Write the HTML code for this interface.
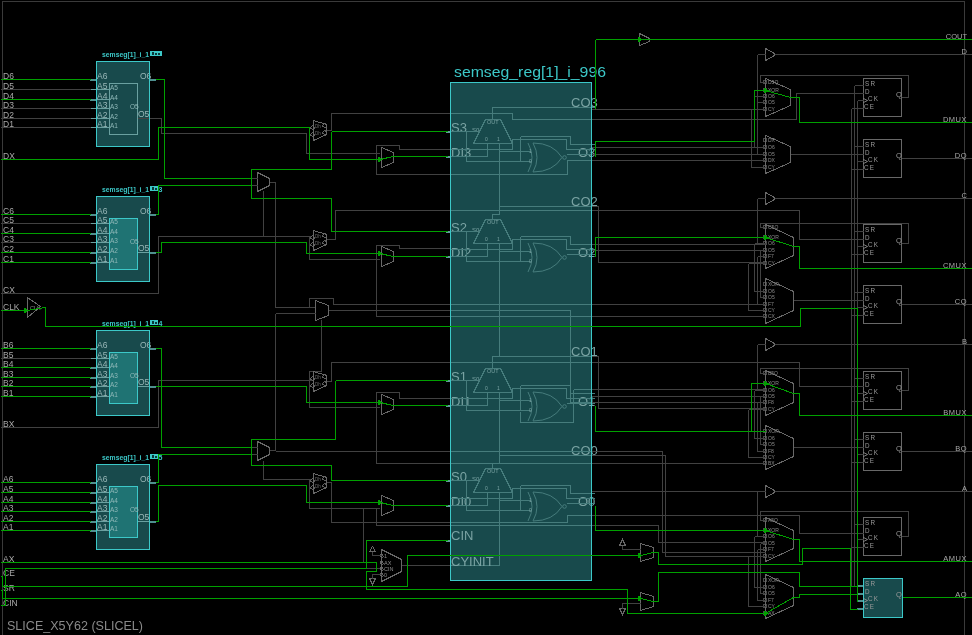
<!DOCTYPE html>
<html><head><meta charset="utf-8"><style>
html,body{margin:0;padding:0;background:#000;overflow:hidden}
svg{display:block;will-change:transform}
text{font-family:"Liberation Sans",sans-serif}
</style></head><body>
<svg width="972" height="635" viewBox="0 0 972 635" shape-rendering="crispEdges">
<rect width="972" height="635" fill="#000"/>
<path d="M2.5,635.5 L2.5,1.5 L964.5,1.5 L964.5,635.5" stroke="#3a3a3a" stroke-width="1" fill="none"/>
<text x="3" y="78.7" font-size="8.5" fill="#a8a8a8" text-anchor="start" font-weight="normal" >D6</text>
<path d="M0.5,89.5 L90.5,89.5" stroke="#414141" stroke-width="1" fill="none"/>
<text x="3" y="88.7" font-size="8.5" fill="#a8a8a8" text-anchor="start" font-weight="normal" >D5</text>
<text x="3" y="98.7" font-size="8.5" fill="#a8a8a8" text-anchor="start" font-weight="normal" >D4</text>
<path d="M0.5,108.5 L90.5,108.5" stroke="#414141" stroke-width="1" fill="none"/>
<text x="3" y="107.7" font-size="8.5" fill="#a8a8a8" text-anchor="start" font-weight="normal" >D3</text>
<path d="M0.5,118.5 L90.5,118.5" stroke="#414141" stroke-width="1" fill="none"/>
<text x="3" y="117.7" font-size="8.5" fill="#a8a8a8" text-anchor="start" font-weight="normal" >D2</text>
<path d="M0.5,127.5 L90.5,127.5" stroke="#414141" stroke-width="1" fill="none"/>
<text x="3" y="126.7" font-size="8.5" fill="#a8a8a8" text-anchor="start" font-weight="normal" >D1</text>
<rect x="96.5" y="61.5" width="53" height="85" stroke="none" fill="#184a4c" stroke-width="1"/>
<path d="M90.5,79.5 L96.5,79.5" stroke="#6aa0a0" stroke-width="1" fill="none"/>
<rect x="90" y="78.5" width="7" height="2" fill="#4f8f8f"/>
<path d="M90.5,89.5 L109.5,89.5" stroke="#6aa0a0" stroke-width="1" fill="none"/>
<path d="M90.5,99.5 L109.5,99.5" stroke="#6aa0a0" stroke-width="1" fill="none"/>
<rect x="90" y="98.5" width="7" height="2" fill="#4f8f8f"/>
<path d="M90.5,108.5 L109.5,108.5" stroke="#6aa0a0" stroke-width="1" fill="none"/>
<path d="M90.5,118.5 L109.5,118.5" stroke="#6aa0a0" stroke-width="1" fill="none"/>
<path d="M90.5,127.5 L109.5,127.5" stroke="#6aa0a0" stroke-width="1" fill="none"/>
<rect x="109.5" y="83.5" width="28" height="51" stroke="#6aa0a0" fill="#184a4c" stroke-width="1"/>
<text x="97" y="79" font-size="8.5" fill="#9ab8b8" text-anchor="start" font-weight="normal" >A6</text>
<text x="97" y="89" font-size="8.5" fill="#9ab8b8" text-anchor="start" font-weight="normal" >A5</text>
<text x="110" y="90" font-size="6.5" fill="#8fb8b8" text-anchor="start" font-weight="normal" >A5</text>
<text x="97" y="99" font-size="8.5" fill="#9ab8b8" text-anchor="start" font-weight="normal" >A4</text>
<text x="110" y="100" font-size="6.5" fill="#8fb8b8" text-anchor="start" font-weight="normal" >A4</text>
<text x="97" y="108" font-size="8.5" fill="#9ab8b8" text-anchor="start" font-weight="normal" >A3</text>
<text x="110" y="109" font-size="6.5" fill="#8fb8b8" text-anchor="start" font-weight="normal" >A3</text>
<text x="97" y="118" font-size="8.5" fill="#9ab8b8" text-anchor="start" font-weight="normal" >A2</text>
<text x="110" y="119" font-size="6.5" fill="#8fb8b8" text-anchor="start" font-weight="normal" >A2</text>
<text x="97" y="127" font-size="8.5" fill="#9ab8b8" text-anchor="start" font-weight="normal" >A1</text>
<text x="110" y="128" font-size="6.5" fill="#8fb8b8" text-anchor="start" font-weight="normal" >A1</text>
<text x="130" y="109" font-size="6.5" fill="#8fb8b8" text-anchor="start" font-weight="normal" >O5</text>
<text x="140" y="79" font-size="8.5" fill="#9ab8b8" text-anchor="start" font-weight="normal" >O6</text>
<text x="138" y="117" font-size="8.5" fill="#9ab8b8" text-anchor="start" font-weight="normal" >O5</text>
<path d="M137.5,118.5 L155.5,118.5" stroke="#6aa0a0" stroke-width="1" fill="none"/>
<path d="M149.5,79.5 L155.5,79.5" stroke="#6aa0a0" stroke-width="1" fill="none"/>
<rect x="150" y="78.5" width="6" height="2" fill="#4f8f8f"/>
<text x="102" y="56.5" font-size="7.3" fill="#3cc8c8" text-anchor="start" font-weight="bold" textLength="47" lengthAdjust="spacingAndGlyphs">semseg[1]_i_1</text>
<rect x="150" y="51" width="12" height="5" fill="#3cc8c8"/>
<rect x="151.5" y="52" width="2" height="3" fill="#0a3a3a"/>
<rect x="155" y="52.5" width="1.5" height="2" fill="#0a3a3a"/>
<rect x="158" y="52.5" width="1.5" height="2" fill="#0a3a3a"/>
<text x="3" y="213.7" font-size="8.5" fill="#a8a8a8" text-anchor="start" font-weight="normal" >C6</text>
<path d="M0.5,223.5 L90.5,223.5" stroke="#414141" stroke-width="1" fill="none"/>
<text x="3" y="222.7" font-size="8.5" fill="#a8a8a8" text-anchor="start" font-weight="normal" >C5</text>
<text x="3" y="232.7" font-size="8.5" fill="#a8a8a8" text-anchor="start" font-weight="normal" >C4</text>
<path d="M0.5,242.5 L90.5,242.5" stroke="#414141" stroke-width="1" fill="none"/>
<text x="3" y="241.7" font-size="8.5" fill="#a8a8a8" text-anchor="start" font-weight="normal" >C3</text>
<text x="3" y="251.7" font-size="8.5" fill="#a8a8a8" text-anchor="start" font-weight="normal" >C2</text>
<text x="3" y="261.7" font-size="8.5" fill="#a8a8a8" text-anchor="start" font-weight="normal" >C1</text>
<rect x="96.5" y="196.5" width="53" height="85" stroke="none" fill="#184a4c" stroke-width="1"/>
<path d="M90.5,214.5 L96.5,214.5" stroke="#6aa0a0" stroke-width="1" fill="none"/>
<rect x="90" y="213.5" width="7" height="2" fill="#4f8f8f"/>
<path d="M90.5,223.5 L109.5,223.5" stroke="#6aa0a0" stroke-width="1" fill="none"/>
<path d="M90.5,233.5 L109.5,233.5" stroke="#6aa0a0" stroke-width="1" fill="none"/>
<rect x="90" y="232.5" width="7" height="2" fill="#4f8f8f"/>
<path d="M90.5,242.5 L109.5,242.5" stroke="#6aa0a0" stroke-width="1" fill="none"/>
<path d="M90.5,252.5 L109.5,252.5" stroke="#6aa0a0" stroke-width="1" fill="none"/>
<rect x="90" y="251.5" width="7" height="2" fill="#4f8f8f"/>
<path d="M90.5,262.5 L109.5,262.5" stroke="#6aa0a0" stroke-width="1" fill="none"/>
<rect x="90" y="261.5" width="7" height="2" fill="#4f8f8f"/>
<rect x="109.5" y="218.5" width="28" height="51" stroke="#3cc8c8" fill="#1f7373" stroke-width="1"/>
<text x="97" y="214" font-size="8.5" fill="#9ab8b8" text-anchor="start" font-weight="normal" >A6</text>
<text x="97" y="223" font-size="8.5" fill="#9ab8b8" text-anchor="start" font-weight="normal" >A5</text>
<text x="110" y="224" font-size="6.5" fill="#8fb8b8" text-anchor="start" font-weight="normal" >A5</text>
<text x="97" y="233" font-size="8.5" fill="#9ab8b8" text-anchor="start" font-weight="normal" >A4</text>
<text x="110" y="234" font-size="6.5" fill="#8fb8b8" text-anchor="start" font-weight="normal" >A4</text>
<text x="97" y="242" font-size="8.5" fill="#9ab8b8" text-anchor="start" font-weight="normal" >A3</text>
<text x="110" y="243" font-size="6.5" fill="#8fb8b8" text-anchor="start" font-weight="normal" >A3</text>
<text x="97" y="252" font-size="8.5" fill="#9ab8b8" text-anchor="start" font-weight="normal" >A2</text>
<text x="110" y="253" font-size="6.5" fill="#8fb8b8" text-anchor="start" font-weight="normal" >A2</text>
<text x="97" y="262" font-size="8.5" fill="#9ab8b8" text-anchor="start" font-weight="normal" >A1</text>
<text x="110" y="263" font-size="6.5" fill="#8fb8b8" text-anchor="start" font-weight="normal" >A1</text>
<text x="130" y="244" font-size="6.5" fill="#8fb8b8" text-anchor="start" font-weight="normal" >O5</text>
<text x="140" y="214" font-size="8.5" fill="#9ab8b8" text-anchor="start" font-weight="normal" >O6</text>
<text x="138" y="251" font-size="8.5" fill="#9ab8b8" text-anchor="start" font-weight="normal" >O5</text>
<path d="M137.5,252.5 L155.5,252.5" stroke="#6aa0a0" stroke-width="1" fill="none"/>
<path d="M149.5,214.5 L155.5,214.5" stroke="#6aa0a0" stroke-width="1" fill="none"/>
<rect x="150" y="213.5" width="6" height="2" fill="#4f8f8f"/>
<rect x="150" y="251.5" width="6" height="2" fill="#4f8f8f"/>
<text x="102" y="191.5" font-size="7.3" fill="#3cc8c8" text-anchor="start" font-weight="bold" textLength="47" lengthAdjust="spacingAndGlyphs">semseg[1]_i_1</text>
<rect x="150" y="186" width="8" height="5" fill="#3cc8c8"/>
<rect x="151.5" y="187" width="2" height="3" fill="#0a3a3a"/>
<rect x="155" y="187.5" width="1.5" height="2" fill="#0a3a3a"/>
<text x="158.5" y="191.5" font-size="7" fill="#3cc8c8" text-anchor="start" font-weight="bold" >3</text>
<text x="3" y="347.7" font-size="8.5" fill="#a8a8a8" text-anchor="start" font-weight="normal" >B6</text>
<path d="M0.5,358.5 L90.5,358.5" stroke="#414141" stroke-width="1" fill="none"/>
<text x="3" y="357.7" font-size="8.5" fill="#a8a8a8" text-anchor="start" font-weight="normal" >B5</text>
<text x="3" y="366.7" font-size="8.5" fill="#a8a8a8" text-anchor="start" font-weight="normal" >B4</text>
<text x="3" y="376.7" font-size="8.5" fill="#a8a8a8" text-anchor="start" font-weight="normal" >B3</text>
<text x="3" y="385.7" font-size="8.5" fill="#a8a8a8" text-anchor="start" font-weight="normal" >B2</text>
<text x="3" y="395.7" font-size="8.5" fill="#a8a8a8" text-anchor="start" font-weight="normal" >B1</text>
<rect x="96.5" y="330.5" width="53" height="85" stroke="none" fill="#184a4c" stroke-width="1"/>
<path d="M90.5,348.5 L96.5,348.5" stroke="#6aa0a0" stroke-width="1" fill="none"/>
<rect x="90" y="347.5" width="7" height="2" fill="#4f8f8f"/>
<path d="M90.5,358.5 L109.5,358.5" stroke="#6aa0a0" stroke-width="1" fill="none"/>
<path d="M90.5,367.5 L109.5,367.5" stroke="#6aa0a0" stroke-width="1" fill="none"/>
<rect x="90" y="366.5" width="7" height="2" fill="#4f8f8f"/>
<path d="M90.5,377.5 L109.5,377.5" stroke="#6aa0a0" stroke-width="1" fill="none"/>
<rect x="90" y="376.5" width="7" height="2" fill="#4f8f8f"/>
<path d="M90.5,386.5 L109.5,386.5" stroke="#6aa0a0" stroke-width="1" fill="none"/>
<rect x="90" y="385.5" width="7" height="2" fill="#4f8f8f"/>
<path d="M90.5,396.5 L109.5,396.5" stroke="#6aa0a0" stroke-width="1" fill="none"/>
<rect x="90" y="395.5" width="7" height="2" fill="#4f8f8f"/>
<rect x="109.5" y="352.5" width="28" height="51" stroke="#3cc8c8" fill="#1f7373" stroke-width="1"/>
<text x="97" y="348" font-size="8.5" fill="#9ab8b8" text-anchor="start" font-weight="normal" >A6</text>
<text x="97" y="358" font-size="8.5" fill="#9ab8b8" text-anchor="start" font-weight="normal" >A5</text>
<text x="110" y="359" font-size="6.5" fill="#8fb8b8" text-anchor="start" font-weight="normal" >A5</text>
<text x="97" y="367" font-size="8.5" fill="#9ab8b8" text-anchor="start" font-weight="normal" >A4</text>
<text x="110" y="368" font-size="6.5" fill="#8fb8b8" text-anchor="start" font-weight="normal" >A4</text>
<text x="97" y="377" font-size="8.5" fill="#9ab8b8" text-anchor="start" font-weight="normal" >A3</text>
<text x="110" y="378" font-size="6.5" fill="#8fb8b8" text-anchor="start" font-weight="normal" >A3</text>
<text x="97" y="386" font-size="8.5" fill="#9ab8b8" text-anchor="start" font-weight="normal" >A2</text>
<text x="110" y="387" font-size="6.5" fill="#8fb8b8" text-anchor="start" font-weight="normal" >A2</text>
<text x="97" y="396" font-size="8.5" fill="#9ab8b8" text-anchor="start" font-weight="normal" >A1</text>
<text x="110" y="397" font-size="6.5" fill="#8fb8b8" text-anchor="start" font-weight="normal" >A1</text>
<text x="130" y="378" font-size="6.5" fill="#8fb8b8" text-anchor="start" font-weight="normal" >O5</text>
<text x="140" y="348" font-size="8.5" fill="#9ab8b8" text-anchor="start" font-weight="normal" >O6</text>
<text x="138" y="385" font-size="8.5" fill="#9ab8b8" text-anchor="start" font-weight="normal" >O5</text>
<path d="M137.5,386.5 L155.5,386.5" stroke="#6aa0a0" stroke-width="1" fill="none"/>
<path d="M149.5,348.5 L155.5,348.5" stroke="#6aa0a0" stroke-width="1" fill="none"/>
<rect x="150" y="347.5" width="6" height="2" fill="#4f8f8f"/>
<rect x="150" y="385.5" width="6" height="2" fill="#4f8f8f"/>
<text x="102" y="325.5" font-size="7.3" fill="#3cc8c8" text-anchor="start" font-weight="bold" textLength="47" lengthAdjust="spacingAndGlyphs">semseg[1]_i_1</text>
<rect x="150" y="320" width="8" height="5" fill="#3cc8c8"/>
<rect x="151.5" y="321" width="2" height="3" fill="#0a3a3a"/>
<rect x="155" y="321.5" width="1.5" height="2" fill="#0a3a3a"/>
<text x="158.5" y="325.5" font-size="7" fill="#3cc8c8" text-anchor="start" font-weight="bold" >4</text>
<text x="3" y="481.7" font-size="8.5" fill="#a8a8a8" text-anchor="start" font-weight="normal" >A6</text>
<text x="3" y="491.7" font-size="8.5" fill="#a8a8a8" text-anchor="start" font-weight="normal" >A5</text>
<text x="3" y="501.7" font-size="8.5" fill="#a8a8a8" text-anchor="start" font-weight="normal" >A4</text>
<text x="3" y="510.7" font-size="8.5" fill="#a8a8a8" text-anchor="start" font-weight="normal" >A3</text>
<text x="3" y="520.7" font-size="8.5" fill="#a8a8a8" text-anchor="start" font-weight="normal" >A2</text>
<text x="3" y="529.7" font-size="8.5" fill="#a8a8a8" text-anchor="start" font-weight="normal" >A1</text>
<rect x="96.5" y="464.5" width="53" height="85" stroke="none" fill="#184a4c" stroke-width="1"/>
<path d="M90.5,482.5 L96.5,482.5" stroke="#6aa0a0" stroke-width="1" fill="none"/>
<rect x="90" y="481.5" width="7" height="2" fill="#4f8f8f"/>
<path d="M90.5,492.5 L109.5,492.5" stroke="#6aa0a0" stroke-width="1" fill="none"/>
<rect x="90" y="491.5" width="7" height="2" fill="#4f8f8f"/>
<path d="M90.5,502.5 L109.5,502.5" stroke="#6aa0a0" stroke-width="1" fill="none"/>
<rect x="90" y="501.5" width="7" height="2" fill="#4f8f8f"/>
<path d="M90.5,511.5 L109.5,511.5" stroke="#6aa0a0" stroke-width="1" fill="none"/>
<rect x="90" y="510.5" width="7" height="2" fill="#4f8f8f"/>
<path d="M90.5,521.5 L109.5,521.5" stroke="#6aa0a0" stroke-width="1" fill="none"/>
<rect x="90" y="520.5" width="7" height="2" fill="#4f8f8f"/>
<path d="M90.5,530.5 L109.5,530.5" stroke="#6aa0a0" stroke-width="1" fill="none"/>
<rect x="90" y="529.5" width="7" height="2" fill="#4f8f8f"/>
<rect x="109.5" y="486.5" width="28" height="51" stroke="#3cc8c8" fill="#1f7373" stroke-width="1"/>
<text x="97" y="482" font-size="8.5" fill="#9ab8b8" text-anchor="start" font-weight="normal" >A6</text>
<text x="97" y="492" font-size="8.5" fill="#9ab8b8" text-anchor="start" font-weight="normal" >A5</text>
<text x="110" y="493" font-size="6.5" fill="#8fb8b8" text-anchor="start" font-weight="normal" >A5</text>
<text x="97" y="502" font-size="8.5" fill="#9ab8b8" text-anchor="start" font-weight="normal" >A4</text>
<text x="110" y="503" font-size="6.5" fill="#8fb8b8" text-anchor="start" font-weight="normal" >A4</text>
<text x="97" y="511" font-size="8.5" fill="#9ab8b8" text-anchor="start" font-weight="normal" >A3</text>
<text x="110" y="512" font-size="6.5" fill="#8fb8b8" text-anchor="start" font-weight="normal" >A3</text>
<text x="97" y="521" font-size="8.5" fill="#9ab8b8" text-anchor="start" font-weight="normal" >A2</text>
<text x="110" y="522" font-size="6.5" fill="#8fb8b8" text-anchor="start" font-weight="normal" >A2</text>
<text x="97" y="530" font-size="8.5" fill="#9ab8b8" text-anchor="start" font-weight="normal" >A1</text>
<text x="110" y="531" font-size="6.5" fill="#8fb8b8" text-anchor="start" font-weight="normal" >A1</text>
<text x="130" y="512" font-size="6.5" fill="#8fb8b8" text-anchor="start" font-weight="normal" >O5</text>
<text x="140" y="482" font-size="8.5" fill="#9ab8b8" text-anchor="start" font-weight="normal" >O6</text>
<text x="138" y="520" font-size="8.5" fill="#9ab8b8" text-anchor="start" font-weight="normal" >O5</text>
<path d="M137.5,521.5 L155.5,521.5" stroke="#6aa0a0" stroke-width="1" fill="none"/>
<path d="M149.5,482.5 L155.5,482.5" stroke="#6aa0a0" stroke-width="1" fill="none"/>
<rect x="150" y="481.5" width="6" height="2" fill="#4f8f8f"/>
<rect x="150" y="520.5" width="6" height="2" fill="#4f8f8f"/>
<text x="102" y="459.5" font-size="7.3" fill="#3cc8c8" text-anchor="start" font-weight="bold" textLength="47" lengthAdjust="spacingAndGlyphs">semseg[1]_i_1</text>
<rect x="150" y="454" width="8" height="5" fill="#3cc8c8"/>
<rect x="151.5" y="455" width="2" height="3" fill="#0a3a3a"/>
<rect x="155" y="455.5" width="1.5" height="2" fill="#0a3a3a"/>
<text x="158.5" y="459.5" font-size="7" fill="#3cc8c8" text-anchor="start" font-weight="bold" >5</text>
<text x="3" y="158.7" font-size="8.5" fill="#a8a8a8" text-anchor="start" font-weight="normal" >DX</text>
<text x="3" y="292.7" font-size="8.5" fill="#a8a8a8" text-anchor="start" font-weight="normal" >CX</text>
<text x="3" y="426.7" font-size="8.5" fill="#a8a8a8" text-anchor="start" font-weight="normal" >BX</text>
<text x="3" y="561.7" font-size="8.5" fill="#a8a8a8" text-anchor="start" font-weight="normal" >AX</text>
<rect x="450.5" y="82.5" width="141" height="498" stroke="none" fill="#184a4c" stroke-width="1"/>
<text x="454" y="77" font-size="14.5" fill="#3cc8c8" text-anchor="start" font-weight="normal" textLength="152" lengthAdjust="spacingAndGlyphs">semseg_reg[1]_i_996</text>
<path d="M137.5,118.5 L161.5,118.5 L161.5,133.5 L306.5,133.5 L306.5,153.5 L379.5,153.5" stroke="#414141" stroke-width="1" fill="none"/>
<polygon points="313.5,120.5 326.5,124.5 326.5,134.5 313.5,140.5" stroke="#686868" fill="none" stroke-width="1"/>
<circle cx="312.5" cy="127.5" r="1.6" stroke="#686868" fill="none" stroke-width="0.9"/>
<circle cx="312.5" cy="134.5" r="1.6" stroke="#686868" fill="none" stroke-width="0.9"/>
<circle cx="324.5" cy="125.5" r="1.6" stroke="#686868" fill="none" stroke-width="0.9"/>
<circle cx="324.5" cy="132.5" r="1.6" stroke="#686868" fill="none" stroke-width="0.9"/>
<text x="315" y="128" font-size="4.5" fill="#686868" text-anchor="start" font-weight="normal" >Dh</text>
<text x="315" y="135" font-size="4.5" fill="#686868" text-anchor="start" font-weight="normal" >Dh</text>
<path d="M326.5,130.5 L331.5,130.5 L331.5,113.5 L450.5,113.5" stroke="#414141" stroke-width="1" fill="none"/>
<polygon points="381.5,147.5 393.5,152.5 393.5,162.5 381.5,167.5" stroke="#686868" fill="none" stroke-width="1"/>
<path d="M376.5,174.5 L376.5,174.5 L376.5,145.5 L399.5,145.5 L399.5,149.5 L450.5,149.5" stroke="#414141" stroke-width="1" fill="none"/>
<path d="M376.5,174.5 L450.5,174.5" stroke="#414141" stroke-width="1" fill="none"/>
<polygon points="257.5,172.5 269.5,178.5 269.5,185.5 257.5,191.5" stroke="#686868" fill="none" stroke-width="1"/>
<path d="M251.5,178.5 L257.5,178.5" stroke="#414141" stroke-width="1" fill="none"/>
<path d="M251.5,185.5 L257.5,185.5" stroke="#414141" stroke-width="1" fill="none"/>
<path d="M269.5,182.5 L275.5,182.5 L275.5,307.5 L315.5,307.5" stroke="#414141" stroke-width="1" fill="none"/>
<path d="M263.5,190.5 L263.5,236.5" stroke="#414141" stroke-width="1" fill="none"/>
<path d="M0.5,293.5 L158.5,293.5 L158.5,236.5 L311.5,236.5" stroke="#414141" stroke-width="1" fill="none"/>
<path d="M309.5,236.5 L309.5,259.5 L379.5,259.5" stroke="#414141" stroke-width="1" fill="none"/>
<polygon points="313.5,230.5 326.5,234.5 326.5,244.5 313.5,250.5" stroke="#686868" fill="none" stroke-width="1"/>
<circle cx="312.5" cy="237.5" r="1.6" stroke="#686868" fill="none" stroke-width="0.9"/>
<circle cx="312.5" cy="244.5" r="1.6" stroke="#686868" fill="none" stroke-width="0.9"/>
<circle cx="324.5" cy="235.5" r="1.6" stroke="#686868" fill="none" stroke-width="0.9"/>
<circle cx="324.5" cy="242.5" r="1.6" stroke="#686868" fill="none" stroke-width="0.9"/>
<text x="315" y="238" font-size="4.5" fill="#686868" text-anchor="start" font-weight="normal" >Dh</text>
<text x="315" y="245" font-size="4.5" fill="#686868" text-anchor="start" font-weight="normal" >Dh</text>
<path d="M326.5,239.5 L335.5,239.5 L335.5,210.5 L450.5,210.5" stroke="#414141" stroke-width="1" fill="none"/>
<polygon points="381.5,246.5 393.5,251.5 393.5,261.5 381.5,266.5" stroke="#686868" fill="none" stroke-width="1"/>
<path d="M376.5,316.5 L376.5,316.5 L376.5,245.5 L399.5,245.5 L399.5,248.5 L450.5,248.5" stroke="#414141" stroke-width="1" fill="none"/>
<path d="M376.5,316.5 L760.5,316.5" stroke="#414141" stroke-width="1" fill="none"/>
<polygon points="315.5,300.5 328.5,305.5 328.5,315.5 315.5,320.5" stroke="#686868" fill="none" stroke-width="1"/>
<path d="M309.5,307.5 L309.5,307.5 L309.5,298.5 L333.5,298.5 L333.5,304.5 L450.5,304.5" stroke="#414141" stroke-width="1" fill="none"/>
<path d="M328.5,310.5 L450.5,310.5" stroke="#414141" stroke-width="1" fill="none"/>
<path d="M275.5,313.5 L315.5,313.5" stroke="#414141" stroke-width="1" fill="none"/>
<path d="M275.5,313.5 L275.5,450.5" stroke="#414141" stroke-width="1" fill="none"/>
<path d="M321.5,319.5 L321.5,371.5 L309.5,371.5 L309.5,380.5" stroke="#414141" stroke-width="1" fill="none"/>
<polygon points="27.5,297.5 40.5,306.5 27.5,317.5" stroke="#686868" fill="none" stroke-width="1"/>
<text x="30" y="310" font-size="5.5" fill="#8a8a8a" text-anchor="start" font-weight="normal" >CLK</text>
<text x="3" y="310" font-size="8.5" fill="#a8a8a8" text-anchor="start" font-weight="normal" >CLK</text>
<path d="M0.5,427.5 L158.5,427.5 L158.5,380.5 L311.5,380.5" stroke="#414141" stroke-width="1" fill="none"/>
<path d="M309.5,380.5 L309.5,407.5 L379.5,407.5" stroke="#414141" stroke-width="1" fill="none"/>
<polygon points="313.5,371.5 326.5,375.5 326.5,385.5 313.5,391.5" stroke="#686868" fill="none" stroke-width="1"/>
<circle cx="312.5" cy="378.5" r="1.6" stroke="#686868" fill="none" stroke-width="0.9"/>
<circle cx="312.5" cy="385.5" r="1.6" stroke="#686868" fill="none" stroke-width="0.9"/>
<circle cx="324.5" cy="376.5" r="1.6" stroke="#686868" fill="none" stroke-width="0.9"/>
<circle cx="324.5" cy="383.5" r="1.6" stroke="#686868" fill="none" stroke-width="0.9"/>
<text x="315" y="379" font-size="4.5" fill="#686868" text-anchor="start" font-weight="normal" >Dh</text>
<text x="315" y="386" font-size="4.5" fill="#686868" text-anchor="start" font-weight="normal" >Dh</text>
<path d="M326.5,381.5 L331.5,381.5 L331.5,362.5 L450.5,362.5" stroke="#414141" stroke-width="1" fill="none"/>
<polygon points="381.5,394.5 393.5,399.5 393.5,409.5 381.5,414.5" stroke="#686868" fill="none" stroke-width="1"/>
<path d="M376.5,463.5 L376.5,463.5 L376.5,392.5 L399.5,392.5 L399.5,398.5 L450.5,398.5" stroke="#414141" stroke-width="1" fill="none"/>
<path d="M376.5,463.5 L450.5,463.5" stroke="#414141" stroke-width="1" fill="none"/>
<polygon points="257.5,441.5 269.5,447.5 269.5,454.5 257.5,460.5" stroke="#686868" fill="none" stroke-width="1"/>
<path d="M251.5,447.5 L257.5,447.5" stroke="#414141" stroke-width="1" fill="none"/>
<path d="M251.5,454.5 L257.5,454.5" stroke="#414141" stroke-width="1" fill="none"/>
<path d="M269.5,450.5 L275.5,450.5" stroke="#414141" stroke-width="1" fill="none"/>
<path d="M275.5,451.5 L450.5,451.5" stroke="#414141" stroke-width="1" fill="none"/>
<path d="M263.5,460.5 L263.5,479.5 L311.5,479.5" stroke="#414141" stroke-width="1" fill="none"/>
<polygon points="313.5,473.5 326.5,477.5 326.5,487.5 313.5,493.5" stroke="#686868" fill="none" stroke-width="1"/>
<circle cx="312.5" cy="480.5" r="1.6" stroke="#686868" fill="none" stroke-width="0.9"/>
<circle cx="312.5" cy="487.5" r="1.6" stroke="#686868" fill="none" stroke-width="0.9"/>
<circle cx="324.5" cy="478.5" r="1.6" stroke="#686868" fill="none" stroke-width="0.9"/>
<circle cx="324.5" cy="485.5" r="1.6" stroke="#686868" fill="none" stroke-width="0.9"/>
<text x="315" y="481" font-size="4.5" fill="#686868" text-anchor="start" font-weight="normal" >Dh</text>
<text x="315" y="488" font-size="4.5" fill="#686868" text-anchor="start" font-weight="normal" >Dh</text>
<path d="M326.5,482.5 L331.5,482.5 L331.5,522.5 L450.5,522.5" stroke="#414141" stroke-width="1" fill="none"/>
<path d="M309.5,479.5 L309.5,508.5 L379.5,508.5" stroke="#414141" stroke-width="1" fill="none"/>
<polygon points="381.5,495.5 393.5,500.5 393.5,510.5 381.5,515.5" stroke="#686868" fill="none" stroke-width="1"/>
<path d="M376.5,508.5 L376.5,525.5 L450.5,525.5" stroke="#414141" stroke-width="1" fill="none"/>
<path d="M363.5,508.5 L363.5,562.5" stroke="#414141" stroke-width="1" fill="none"/>
<path d="M366.5,568.5 L380.5,568.5" stroke="#414141" stroke-width="1" fill="none"/>
<polygon points="381.5,549.5 401.5,559.5 401.5,571.5 381.5,581.5" stroke="#686868" fill="none" stroke-width="1"/>
<circle cx="381.5" cy="555.5" r="1.5" stroke="#686868" fill="none" stroke-width="0.9"/>
<text x="384" y="557.5" font-size="5.5" fill="#8a8a8a" text-anchor="start" font-weight="normal" >1</text>
<circle cx="381.5" cy="562.5" r="1.5" stroke="#686868" fill="none" stroke-width="0.9"/>
<text x="384" y="564.5" font-size="5.5" fill="#8a8a8a" text-anchor="start" font-weight="normal" >AX</text>
<circle cx="381.5" cy="568.5" r="1.5" stroke="#686868" fill="none" stroke-width="0.9"/>
<text x="384" y="570.5" font-size="5.5" fill="#8a8a8a" text-anchor="start" font-weight="normal" >CIN</text>
<circle cx="381.5" cy="574.5" r="1.5" stroke="#686868" fill="none" stroke-width="0.9"/>
<text x="384" y="576.5" font-size="5.5" fill="#8a8a8a" text-anchor="start" font-weight="normal" >0</text>
<path d="M401.5,565.5 L450.5,565.5" stroke="#414141" stroke-width="1" fill="none"/>
<polygon points="372.5,546.5 375.5,551.5 369.5,551.5" stroke="#686868" fill="none" stroke-width="1"/>
<polygon points="369.5,578.5 375.5,578.5 372.5,584.5" stroke="#686868" fill="none" stroke-width="1"/>
<path d="M372.5,551.5 L372.5,555.5 L381.5,555.5" stroke="#414141" stroke-width="1" fill="none"/>
<path d="M372.5,578.5 L372.5,574.5 L381.5,574.5" stroke="#414141" stroke-width="1" fill="none"/>
<text x="7" y="630" font-size="13" fill="#8a8a8a" text-anchor="start" font-weight="normal" textLength="136" lengthAdjust="spacingAndGlyphs">SLICE_X5Y62 (SLICEL)</text>
<text x="3" y="576" font-size="8.5" fill="#a8a8a8" text-anchor="start" font-weight="normal" >CE</text>
<text x="3" y="591" font-size="8.5" fill="#a8a8a8" text-anchor="start" font-weight="normal" >SR</text>
<text x="3" y="606" font-size="8.5" fill="#a8a8a8" text-anchor="start" font-weight="normal" >CIN</text>
<text x="451" y="131.5" font-size="13" fill="#7aa3a3" text-anchor="start" font-weight="normal" >S3</text>
<text x="451" y="156.5" font-size="13" fill="#7aa3a3" text-anchor="start" font-weight="normal" >DI3</text>
<text x="571" y="107" font-size="13" fill="#7aa3a3" text-anchor="start" font-weight="normal" >CO3</text>
<text x="578" y="156.5" font-size="13" fill="#7aa3a3" text-anchor="start" font-weight="normal" >O3</text>
<polygon points="485.5,119.5 500.5,119.5 512.5,143.5 473.5,143.5" stroke="#467c7c" fill="none" stroke-width="1"/>
<text x="487" y="124" font-size="5.5" fill="#7aa3a3" text-anchor="start" font-weight="normal" >OUT</text>
<text x="472" y="132" font-size="6" fill="#7aa3a3" text-anchor="start" font-weight="normal" >S0</text>
<text x="485" y="141" font-size="5" fill="#7aa3a3" text-anchor="start" font-weight="normal" >0</text>
<text x="497" y="141" font-size="5" fill="#7aa3a3" text-anchor="start" font-weight="normal" >1</text>
<path d="M492.5,119.5 L492.5,107.5 L594.5,107.5" stroke="#467c7c" stroke-width="1" fill="none"/>
<path d="M499.5,143.5 L499.5,214.5" stroke="#467c7c" stroke-width="1" fill="none"/>
<path d="M450.5,131.5 L476.5,131.5" stroke="#467c7c" stroke-width="1" fill="none"/>
<path d="M466.5,131.5 L466.5,161.5 L530.5,161.5" stroke="#467c7c" stroke-width="1" fill="none"/>
<path d="M450.5,156.5 L487.5,156.5 L487.5,143.5" stroke="#467c7c" stroke-width="1" fill="none"/>
<path d="M499.5,151.5 L530.5,151.5" stroke="#467c7c" stroke-width="1" fill="none"/>
<path d="M533,143 Q541,157.5 533,172 Q553,172 562,157.5 Q553,143 533,143 Z" stroke="#467c7c" fill="none" shape-rendering="auto"/>
<path d="M528,143 Q536,157.5 528,172" stroke="#467c7c" fill="none" shape-rendering="auto"/>
<circle cx="564.5" cy="157.5" r="1.8" stroke="#467c7c" fill="none" shape-rendering="auto"/>
<text x="529" y="153" font-size="5" fill="#7aa3a3" text-anchor="start" font-weight="normal" >1</text>
<text x="529" y="163" font-size="5" fill="#7aa3a3" text-anchor="start" font-weight="normal" >0</text>
<path d="M566.5,154.5 L594.5,154.5" stroke="#467c7c" stroke-width="1" fill="none"/>
<path d="M520.5,136.5 L570.5,136.5 L570.5,144.5 L594.5,144.5" stroke="#467c7c" stroke-width="1" fill="none"/>
<path d="M520.5,136.5 L520.5,161.5" stroke="#467c7c" stroke-width="1" fill="none"/>
<path d="M512.5,143.5 L512.5,139.5 L566.5,139.5 L566.5,149.5 L594.5,149.5" stroke="#467c7c" stroke-width="1" fill="none"/>
<path d="M450.5,149.5 L512.5,149.5 L512.5,143.5" stroke="#467c7c" stroke-width="1" fill="none"/>
<text x="451" y="231.5" font-size="13" fill="#7aa3a3" text-anchor="start" font-weight="normal" >S2</text>
<text x="451" y="256.5" font-size="13" fill="#7aa3a3" text-anchor="start" font-weight="normal" >DI2</text>
<text x="571" y="206" font-size="13" fill="#7aa3a3" text-anchor="start" font-weight="normal" >CO2</text>
<text x="578" y="256.5" font-size="13" fill="#7aa3a3" text-anchor="start" font-weight="normal" >O2</text>
<polygon points="485.5,219.5 500.5,219.5 512.5,243.5 473.5,243.5" stroke="#467c7c" fill="none" stroke-width="1"/>
<text x="487" y="224" font-size="5.5" fill="#7aa3a3" text-anchor="start" font-weight="normal" >OUT</text>
<text x="472" y="232" font-size="6" fill="#7aa3a3" text-anchor="start" font-weight="normal" >S0</text>
<text x="485" y="241" font-size="5" fill="#7aa3a3" text-anchor="start" font-weight="normal" >0</text>
<text x="497" y="241" font-size="5" fill="#7aa3a3" text-anchor="start" font-weight="normal" >1</text>
<path d="M492.5,219.5 L492.5,214.5 L499.5,214.5" stroke="#467c7c" stroke-width="1" fill="none"/>
<path d="M499.5,206.5 L594.5,206.5" stroke="#467c7c" stroke-width="1" fill="none"/>
<path d="M499.5,243.5 L499.5,356.5" stroke="#467c7c" stroke-width="1" fill="none"/>
<path d="M450.5,231.5 L476.5,231.5" stroke="#467c7c" stroke-width="1" fill="none"/>
<path d="M466.5,231.5 L466.5,261.5 L530.5,261.5" stroke="#467c7c" stroke-width="1" fill="none"/>
<path d="M450.5,256.5 L487.5,256.5 L487.5,243.5" stroke="#467c7c" stroke-width="1" fill="none"/>
<path d="M499.5,251.5 L530.5,251.5" stroke="#467c7c" stroke-width="1" fill="none"/>
<path d="M533,243 Q541,257.5 533,272 Q553,272 562,257.5 Q553,243 533,243 Z" stroke="#467c7c" fill="none" shape-rendering="auto"/>
<path d="M528,243 Q536,257.5 528,272" stroke="#467c7c" fill="none" shape-rendering="auto"/>
<circle cx="564.5" cy="257.5" r="1.8" stroke="#467c7c" fill="none" shape-rendering="auto"/>
<text x="529" y="253" font-size="5" fill="#7aa3a3" text-anchor="start" font-weight="normal" >1</text>
<text x="529" y="263" font-size="5" fill="#7aa3a3" text-anchor="start" font-weight="normal" >0</text>
<path d="M566.5,254.5 L594.5,254.5" stroke="#467c7c" stroke-width="1" fill="none"/>
<path d="M520.5,236.5 L570.5,236.5 L570.5,244.5 L594.5,244.5" stroke="#467c7c" stroke-width="1" fill="none"/>
<path d="M520.5,236.5 L520.5,261.5" stroke="#467c7c" stroke-width="1" fill="none"/>
<path d="M512.5,243.5 L512.5,239.5 L566.5,239.5 L566.5,249.5 L594.5,249.5" stroke="#467c7c" stroke-width="1" fill="none"/>
<path d="M450.5,249.5 L512.5,249.5 L512.5,243.5" stroke="#467c7c" stroke-width="1" fill="none"/>
<text x="451" y="380.5" font-size="13" fill="#7aa3a3" text-anchor="start" font-weight="normal" >S1</text>
<text x="451" y="405.5" font-size="13" fill="#7aa3a3" text-anchor="start" font-weight="normal" >DI1</text>
<text x="571" y="356" font-size="13" fill="#7aa3a3" text-anchor="start" font-weight="normal" >CO1</text>
<text x="578" y="405.5" font-size="13" fill="#7aa3a3" text-anchor="start" font-weight="normal" >O1</text>
<polygon points="485.5,368.5 500.5,368.5 512.5,392.5 473.5,392.5" stroke="#467c7c" fill="none" stroke-width="1"/>
<text x="487" y="373" font-size="5.5" fill="#7aa3a3" text-anchor="start" font-weight="normal" >OUT</text>
<text x="472" y="381" font-size="6" fill="#7aa3a3" text-anchor="start" font-weight="normal" >S0</text>
<text x="485" y="390" font-size="5" fill="#7aa3a3" text-anchor="start" font-weight="normal" >0</text>
<text x="497" y="390" font-size="5" fill="#7aa3a3" text-anchor="start" font-weight="normal" >1</text>
<path d="M492.5,368.5 L492.5,356.5 L594.5,356.5" stroke="#467c7c" stroke-width="1" fill="none"/>
<path d="M499.5,392.5 L499.5,463.5" stroke="#467c7c" stroke-width="1" fill="none"/>
<path d="M450.5,380.5 L476.5,380.5" stroke="#467c7c" stroke-width="1" fill="none"/>
<path d="M466.5,380.5 L466.5,410.5 L530.5,410.5" stroke="#467c7c" stroke-width="1" fill="none"/>
<path d="M450.5,405.5 L487.5,405.5 L487.5,392.5" stroke="#467c7c" stroke-width="1" fill="none"/>
<path d="M499.5,400.5 L530.5,400.5" stroke="#467c7c" stroke-width="1" fill="none"/>
<path d="M533,392 Q541,406.5 533,421 Q553,421 562,406.5 Q553,392 533,392 Z" stroke="#467c7c" fill="none" shape-rendering="auto"/>
<path d="M528,392 Q536,406.5 528,421" stroke="#467c7c" fill="none" shape-rendering="auto"/>
<circle cx="564.5" cy="406.5" r="1.8" stroke="#467c7c" fill="none" shape-rendering="auto"/>
<text x="529" y="402" font-size="5" fill="#7aa3a3" text-anchor="start" font-weight="normal" >1</text>
<text x="529" y="412" font-size="5" fill="#7aa3a3" text-anchor="start" font-weight="normal" >0</text>
<path d="M566.5,403.5 L594.5,403.5" stroke="#467c7c" stroke-width="1" fill="none"/>
<path d="M520.5,385.5 L570.5,385.5 L570.5,393.5 L594.5,393.5" stroke="#467c7c" stroke-width="1" fill="none"/>
<path d="M520.5,385.5 L520.5,410.5" stroke="#467c7c" stroke-width="1" fill="none"/>
<path d="M512.5,392.5 L512.5,388.5 L566.5,388.5 L566.5,398.5 L594.5,398.5" stroke="#467c7c" stroke-width="1" fill="none"/>
<path d="M450.5,398.5 L512.5,398.5 L512.5,392.5" stroke="#467c7c" stroke-width="1" fill="none"/>
<text x="451" y="480.5" font-size="13" fill="#7aa3a3" text-anchor="start" font-weight="normal" >S0</text>
<text x="451" y="505.5" font-size="13" fill="#7aa3a3" text-anchor="start" font-weight="normal" >DI0</text>
<text x="571" y="455" font-size="13" fill="#7aa3a3" text-anchor="start" font-weight="normal" >CO0</text>
<text x="578" y="505.5" font-size="13" fill="#7aa3a3" text-anchor="start" font-weight="normal" >O0</text>
<polygon points="485.5,468.5 500.5,468.5 512.5,492.5 473.5,492.5" stroke="#467c7c" fill="none" stroke-width="1"/>
<text x="487" y="473" font-size="5.5" fill="#7aa3a3" text-anchor="start" font-weight="normal" >OUT</text>
<text x="472" y="481" font-size="6" fill="#7aa3a3" text-anchor="start" font-weight="normal" >S0</text>
<text x="485" y="490" font-size="5" fill="#7aa3a3" text-anchor="start" font-weight="normal" >0</text>
<text x="497" y="490" font-size="5" fill="#7aa3a3" text-anchor="start" font-weight="normal" >1</text>
<path d="M492.5,468.5 L492.5,463.5 L499.5,463.5" stroke="#467c7c" stroke-width="1" fill="none"/>
<path d="M499.5,455.5 L594.5,455.5" stroke="#467c7c" stroke-width="1" fill="none"/>
<path d="M499.5,492.5 L499.5,565.5" stroke="#467c7c" stroke-width="1" fill="none"/>
<path d="M450.5,480.5 L476.5,480.5" stroke="#467c7c" stroke-width="1" fill="none"/>
<path d="M466.5,480.5 L466.5,510.5 L530.5,510.5" stroke="#467c7c" stroke-width="1" fill="none"/>
<path d="M450.5,505.5 L487.5,505.5 L487.5,492.5" stroke="#467c7c" stroke-width="1" fill="none"/>
<path d="M499.5,500.5 L530.5,500.5" stroke="#467c7c" stroke-width="1" fill="none"/>
<path d="M533,492 Q541,506.5 533,521 Q553,521 562,506.5 Q553,492 533,492 Z" stroke="#467c7c" fill="none" shape-rendering="auto"/>
<path d="M528,492 Q536,506.5 528,521" stroke="#467c7c" fill="none" shape-rendering="auto"/>
<circle cx="564.5" cy="506.5" r="1.8" stroke="#467c7c" fill="none" shape-rendering="auto"/>
<text x="529" y="502" font-size="5" fill="#7aa3a3" text-anchor="start" font-weight="normal" >1</text>
<text x="529" y="512" font-size="5" fill="#7aa3a3" text-anchor="start" font-weight="normal" >0</text>
<path d="M566.5,503.5 L594.5,503.5" stroke="#467c7c" stroke-width="1" fill="none"/>
<path d="M520.5,485.5 L570.5,485.5 L570.5,493.5 L594.5,493.5" stroke="#467c7c" stroke-width="1" fill="none"/>
<path d="M520.5,485.5 L520.5,510.5" stroke="#467c7c" stroke-width="1" fill="none"/>
<path d="M512.5,492.5 L512.5,488.5 L566.5,488.5 L566.5,498.5 L594.5,498.5" stroke="#467c7c" stroke-width="1" fill="none"/>
<path d="M450.5,498.5 L512.5,498.5 L512.5,492.5" stroke="#467c7c" stroke-width="1" fill="none"/>
<path d="M450.5,113.5 L512.5,113.5 L512.5,119.5 L591.5,119.5" stroke="#467c7c" stroke-width="1" fill="none"/>
<path d="M450.5,174.5 L567.5,174.5 L567.5,160.5 L591.5,160.5" stroke="#467c7c" stroke-width="1" fill="none"/>
<path d="M450.5,210.5 L591.5,210.5" stroke="#467c7c" stroke-width="1" fill="none"/>
<path d="M450.5,304.5 L591.5,304.5" stroke="#467c7c" stroke-width="1" fill="none"/>
<path d="M450.5,310.5 L570.5,310.5 L570.5,402.5 L591.5,402.5" stroke="#467c7c" stroke-width="1" fill="none"/>
<path d="M450.5,316.5 L591.5,316.5" stroke="#467c7c" stroke-width="1" fill="none"/>
<path d="M450.5,362.5 L591.5,362.5" stroke="#467c7c" stroke-width="1" fill="none"/>
<path d="M573.5,389.5 L591.5,389.5" stroke="#467c7c" stroke-width="1" fill="none"/>
<path d="M573.5,389.5 L573.5,422.5 L520.5,422.5 L520.5,411.5" stroke="#467c7c" stroke-width="1" fill="none"/>
<path d="M450.5,451.5 L591.5,451.5" stroke="#467c7c" stroke-width="1" fill="none"/>
<path d="M450.5,463.5 L591.5,463.5" stroke="#467c7c" stroke-width="1" fill="none"/>
<path d="M450.5,522.5 L567.5,522.5 L567.5,515.5 L591.5,515.5" stroke="#467c7c" stroke-width="1" fill="none"/>
<path d="M450.5,525.5 L591.5,525.5" stroke="#467c7c" stroke-width="1" fill="none"/>
<path d="M450.5,565.5 L499.5,565.5" stroke="#467c7c" stroke-width="1" fill="none"/>
<text x="451" y="540" font-size="13" fill="#7aa3a3" text-anchor="start" font-weight="normal" >CIN</text>
<rect x="446" y="130.5" width="5" height="2" fill="#5f9a9a"/>
<rect x="446" y="155.5" width="5" height="2" fill="#5f9a9a"/>
<rect x="446" y="230.5" width="5" height="2" fill="#5f9a9a"/>
<rect x="446" y="255.5" width="5" height="2" fill="#5f9a9a"/>
<rect x="446" y="379.5" width="5" height="2" fill="#5f9a9a"/>
<rect x="446" y="404.5" width="5" height="2" fill="#5f9a9a"/>
<rect x="446" y="479.5" width="5" height="2" fill="#5f9a9a"/>
<rect x="446" y="504.5" width="5" height="2" fill="#5f9a9a"/>
<rect x="446" y="539.5" width="5" height="2" fill="#5f9a9a"/>
<text x="451" y="566" font-size="13" fill="#7aa3a3" text-anchor="start" font-weight="normal" >CYINIT</text>
<polygon points="639.5,33.5 649.5,38.5 649.5,41.5 639.5,45.5" stroke="#686868" fill="none" stroke-width="1"/>
<text x="967" y="39" font-size="7.5" fill="#a8a8a8" text-anchor="end" font-weight="normal" >COUT</text>
<path d="M851.5,108.5 L851.5,586.5" stroke="#414141" stroke-width="1" fill="none"/>
<path d="M854.5,85.5 L854.5,586.5" stroke="#414141" stroke-width="1" fill="none"/>
<path d="M857.5,100.5 L857.5,308.5" stroke="#414141" stroke-width="1" fill="none"/>
<polygon points="765.5,48.5 774.5,53.5 774.5,55.5 765.5,60.5" stroke="#686868" fill="none" stroke-width="1"/>
<path d="M774.5,54.5 L972.5,54.5" stroke="#414141" stroke-width="1" fill="none"/>
<path d="M757.5,54.5 L765.5,54.5" stroke="#414141" stroke-width="1" fill="none"/>
<text x="967" y="54" font-size="7.5" fill="#a8a8a8" text-anchor="end" font-weight="normal" >D</text>
<polygon points="765.5,78.5 790.5,89.5 790.5,105.5 765.5,116.5" stroke="#686868" fill="none" stroke-width="1"/>
<rect x="763" y="80.5" width="3" height="3" stroke="#686868" fill="none" stroke-width="0.7"/>
<text x="768" y="84" font-size="5" fill="#8a8a8a" text-anchor="start" font-weight="normal" >D5Q</text>
<rect x="763" y="88.5" width="3" height="3" stroke="#686868" fill="none" stroke-width="0.7"/>
<text x="768" y="92" font-size="5" fill="#8a8a8a" text-anchor="start" font-weight="normal" >XOR</text>
<rect x="763" y="94.5" width="3" height="3" stroke="#686868" fill="none" stroke-width="0.7"/>
<text x="768" y="98" font-size="5" fill="#8a8a8a" text-anchor="start" font-weight="normal" >O6</text>
<rect x="763" y="100.5" width="3" height="3" stroke="#686868" fill="none" stroke-width="0.7"/>
<text x="768" y="104" font-size="5" fill="#8a8a8a" text-anchor="start" font-weight="normal" >O5</text>
<rect x="763" y="107.5" width="3" height="3" stroke="#686868" fill="none" stroke-width="0.7"/>
<text x="768" y="111" font-size="5" fill="#8a8a8a" text-anchor="start" font-weight="normal" >CY</text>
<polygon points="765.5,135.5 790.5,146.5 790.5,162.5 765.5,173.5" stroke="#686868" fill="none" stroke-width="1"/>
<rect x="763" y="138.5" width="3" height="3" stroke="#686868" fill="none" stroke-width="0.7"/>
<text x="768" y="142" font-size="5" fill="#8a8a8a" text-anchor="start" font-weight="normal" >DX</text>
<rect x="763" y="145.5" width="3" height="3" stroke="#686868" fill="none" stroke-width="0.7"/>
<text x="768" y="149" font-size="5" fill="#8a8a8a" text-anchor="start" font-weight="normal" >O6</text>
<rect x="763" y="152.5" width="3" height="3" stroke="#686868" fill="none" stroke-width="0.7"/>
<text x="768" y="156" font-size="5" fill="#8a8a8a" text-anchor="start" font-weight="normal" >O5</text>
<rect x="763" y="158.5" width="3" height="3" stroke="#686868" fill="none" stroke-width="0.7"/>
<text x="768" y="162" font-size="5" fill="#8a8a8a" text-anchor="start" font-weight="normal" >DX</text>
<rect x="763" y="165.5" width="3" height="3" stroke="#686868" fill="none" stroke-width="0.7"/>
<text x="768" y="169" font-size="5" fill="#8a8a8a" text-anchor="start" font-weight="normal" >CY</text>
<rect x="863.5" y="78.5" width="38" height="38" stroke="#686868" fill="none" stroke-width="1"/>
<path d="M854.5,85.5 L863.5,85.5" stroke="#414141" stroke-width="1" fill="none"/>
<text x="865" y="86" font-size="6.3" fill="#9a9a9a" text-anchor="start" font-weight="normal" letter-spacing="1.2">SR</text>
<text x="865" y="94" font-size="6.3" fill="#9a9a9a" text-anchor="start" font-weight="normal" letter-spacing="1.2">D</text>
<path d="M857.5,100.5 L863.5,100.5" stroke="#414141" stroke-width="1" fill="none"/>
<text x="868" y="101" font-size="6.3" fill="#9a9a9a" text-anchor="start" font-weight="normal" letter-spacing="1.2">CK</text>
<path d="M851.5,108.5 L863.5,108.5" stroke="#414141" stroke-width="1" fill="none"/>
<text x="864" y="109" font-size="6.3" fill="#9a9a9a" text-anchor="start" font-weight="normal" letter-spacing="1.2">CE</text>
<text x="896" y="96.5" font-size="7.5" fill="#9a9a9a" text-anchor="start" font-weight="normal" >Q</text>
<path d="M863.5,98.5 L867.5,100.5 L863.5,102.5" stroke="#9a9a9a" fill="none" stroke-width="0.8" shape-rendering="auto"/>
<rect x="863.5" y="139.5" width="38" height="38" stroke="#686868" fill="none" stroke-width="1"/>
<path d="M854.5,146.5 L863.5,146.5" stroke="#414141" stroke-width="1" fill="none"/>
<text x="865" y="147" font-size="6.3" fill="#9a9a9a" text-anchor="start" font-weight="normal" letter-spacing="1.2">SR</text>
<text x="865" y="155" font-size="6.3" fill="#9a9a9a" text-anchor="start" font-weight="normal" letter-spacing="1.2">D</text>
<path d="M857.5,161.5 L863.5,161.5" stroke="#414141" stroke-width="1" fill="none"/>
<text x="868" y="162" font-size="6.3" fill="#9a9a9a" text-anchor="start" font-weight="normal" letter-spacing="1.2">CK</text>
<path d="M851.5,169.5 L863.5,169.5" stroke="#414141" stroke-width="1" fill="none"/>
<text x="864" y="170" font-size="6.3" fill="#9a9a9a" text-anchor="start" font-weight="normal" letter-spacing="1.2">CE</text>
<text x="896" y="157.5" font-size="7.5" fill="#9a9a9a" text-anchor="start" font-weight="normal" >Q</text>
<path d="M863.5,159.5 L867.5,161.5 L863.5,163.5" stroke="#9a9a9a" fill="none" stroke-width="0.8" shape-rendering="auto"/>
<path d="M901.5,97.5 L908.5,97.5 L908.5,75.5 L760.5,75.5 L760.5,82.5 L765.5,82.5" stroke="#414141" stroke-width="1" fill="none"/>
<path d="M790.5,154.5 L863.5,154.5" stroke="#414141" stroke-width="1" fill="none"/>
<path d="M901.5,158.5 L972.5,158.5" stroke="#414141" stroke-width="1" fill="none"/>
<text x="967" y="158" font-size="7.5" fill="#a8a8a8" text-anchor="end" font-weight="normal" letter-spacing="0.5">DQ</text>
<text x="967" y="122" font-size="7.5" fill="#a8a8a8" text-anchor="end" font-weight="normal" letter-spacing="0.5">DMUX</text>
<path d="M754.5,96.5 L754.5,147.5 L765.5,147.5" stroke="#414141" stroke-width="1" fill="none"/>
<path d="M754.5,96.5 L765.5,96.5" stroke="#414141" stroke-width="1" fill="none"/>
<path d="M757.5,102.5 L757.5,154.5 L765.5,154.5" stroke="#414141" stroke-width="1" fill="none"/>
<path d="M757.5,102.5 L765.5,102.5" stroke="#414141" stroke-width="1" fill="none"/>
<path d="M751.5,109.5 L751.5,167.5 L765.5,167.5" stroke="#414141" stroke-width="1" fill="none"/>
<path d="M751.5,109.5 L765.5,109.5" stroke="#414141" stroke-width="1" fill="none"/>
<polygon points="765.5,192.5 774.5,197.5 774.5,199.5 765.5,204.5" stroke="#686868" fill="none" stroke-width="1"/>
<path d="M774.5,198.5 L972.5,198.5" stroke="#414141" stroke-width="1" fill="none"/>
<path d="M757.5,198.5 L765.5,198.5" stroke="#414141" stroke-width="1" fill="none"/>
<text x="967" y="198" font-size="7.5" fill="#a8a8a8" text-anchor="end" font-weight="normal" >C</text>
<polygon points="765.5,224.5 793.5,237.5 793.5,255.5 765.5,268.5" stroke="#686868" fill="none" stroke-width="1"/>
<rect x="763" y="225.5" width="3" height="3" stroke="#686868" fill="none" stroke-width="0.7"/>
<text x="768" y="229" font-size="5" fill="#8a8a8a" text-anchor="start" font-weight="normal" >C5Q</text>
<rect x="763" y="235.5" width="3" height="3" stroke="#686868" fill="none" stroke-width="0.7"/>
<text x="768" y="239" font-size="5" fill="#8a8a8a" text-anchor="start" font-weight="normal" >XOR</text>
<rect x="763" y="241.5" width="3" height="3" stroke="#686868" fill="none" stroke-width="0.7"/>
<text x="768" y="245" font-size="5" fill="#8a8a8a" text-anchor="start" font-weight="normal" >O6</text>
<rect x="763" y="248.5" width="3" height="3" stroke="#686868" fill="none" stroke-width="0.7"/>
<text x="768" y="252" font-size="5" fill="#8a8a8a" text-anchor="start" font-weight="normal" >O5</text>
<rect x="763" y="254.5" width="3" height="3" stroke="#686868" fill="none" stroke-width="0.7"/>
<text x="768" y="258" font-size="5" fill="#8a8a8a" text-anchor="start" font-weight="normal" >F7</text>
<rect x="763" y="261.5" width="3" height="3" stroke="#686868" fill="none" stroke-width="0.7"/>
<text x="768" y="265" font-size="5" fill="#8a8a8a" text-anchor="start" font-weight="normal" >CY</text>
<polygon points="765.5,278.5 793.5,291.5 793.5,310.5 765.5,323.5" stroke="#686868" fill="none" stroke-width="1"/>
<rect x="763" y="282.5" width="3" height="3" stroke="#686868" fill="none" stroke-width="0.7"/>
<text x="768" y="286" font-size="5" fill="#8a8a8a" text-anchor="start" font-weight="normal" >XOR</text>
<rect x="763" y="289.5" width="3" height="3" stroke="#686868" fill="none" stroke-width="0.7"/>
<text x="768" y="293" font-size="5" fill="#8a8a8a" text-anchor="start" font-weight="normal" >O6</text>
<rect x="763" y="295.5" width="3" height="3" stroke="#686868" fill="none" stroke-width="0.7"/>
<text x="768" y="299" font-size="5" fill="#8a8a8a" text-anchor="start" font-weight="normal" >O5</text>
<rect x="763" y="302.5" width="3" height="3" stroke="#686868" fill="none" stroke-width="0.7"/>
<text x="768" y="306" font-size="5" fill="#8a8a8a" text-anchor="start" font-weight="normal" >F7</text>
<rect x="763" y="308.5" width="3" height="3" stroke="#686868" fill="none" stroke-width="0.7"/>
<text x="768" y="312" font-size="5" fill="#8a8a8a" text-anchor="start" font-weight="normal" >CY</text>
<rect x="763" y="314.5" width="3" height="3" stroke="#686868" fill="none" stroke-width="0.7"/>
<text x="768" y="318" font-size="5" fill="#8a8a8a" text-anchor="start" font-weight="normal" >CX</text>
<rect x="863.5" y="224.5" width="38" height="38" stroke="#686868" fill="none" stroke-width="1"/>
<path d="M854.5,231.5 L863.5,231.5" stroke="#414141" stroke-width="1" fill="none"/>
<text x="865" y="232" font-size="6.3" fill="#9a9a9a" text-anchor="start" font-weight="normal" letter-spacing="1.2">SR</text>
<text x="865" y="240" font-size="6.3" fill="#9a9a9a" text-anchor="start" font-weight="normal" letter-spacing="1.2">D</text>
<path d="M857.5,246.5 L863.5,246.5" stroke="#414141" stroke-width="1" fill="none"/>
<text x="868" y="247" font-size="6.3" fill="#9a9a9a" text-anchor="start" font-weight="normal" letter-spacing="1.2">CK</text>
<path d="M851.5,254.5 L863.5,254.5" stroke="#414141" stroke-width="1" fill="none"/>
<text x="864" y="255" font-size="6.3" fill="#9a9a9a" text-anchor="start" font-weight="normal" letter-spacing="1.2">CE</text>
<text x="896" y="242.5" font-size="7.5" fill="#9a9a9a" text-anchor="start" font-weight="normal" >Q</text>
<path d="M863.5,244.5 L867.5,246.5 L863.5,248.5" stroke="#9a9a9a" fill="none" stroke-width="0.8" shape-rendering="auto"/>
<rect x="863.5" y="285.5" width="38" height="38" stroke="#686868" fill="none" stroke-width="1"/>
<path d="M854.5,292.5 L863.5,292.5" stroke="#414141" stroke-width="1" fill="none"/>
<text x="865" y="293" font-size="6.3" fill="#9a9a9a" text-anchor="start" font-weight="normal" letter-spacing="1.2">SR</text>
<text x="865" y="301" font-size="6.3" fill="#9a9a9a" text-anchor="start" font-weight="normal" letter-spacing="1.2">D</text>
<path d="M857.5,307.5 L863.5,307.5" stroke="#414141" stroke-width="1" fill="none"/>
<text x="868" y="308" font-size="6.3" fill="#9a9a9a" text-anchor="start" font-weight="normal" letter-spacing="1.2">CK</text>
<path d="M851.5,315.5 L863.5,315.5" stroke="#414141" stroke-width="1" fill="none"/>
<text x="864" y="316" font-size="6.3" fill="#9a9a9a" text-anchor="start" font-weight="normal" letter-spacing="1.2">CE</text>
<text x="896" y="303.5" font-size="7.5" fill="#9a9a9a" text-anchor="start" font-weight="normal" >Q</text>
<path d="M863.5,305.5 L867.5,307.5 L863.5,309.5" stroke="#9a9a9a" fill="none" stroke-width="0.8" shape-rendering="auto"/>
<path d="M901.5,243.5 L908.5,243.5 L908.5,223.5 L760.5,223.5 L760.5,227.5 L765.5,227.5" stroke="#414141" stroke-width="1" fill="none"/>
<path d="M793.5,300.5 L863.5,300.5" stroke="#414141" stroke-width="1" fill="none"/>
<path d="M901.5,304.5 L972.5,304.5" stroke="#414141" stroke-width="1" fill="none"/>
<text x="967" y="304" font-size="7.5" fill="#a8a8a8" text-anchor="end" font-weight="normal" letter-spacing="0.5">CQ</text>
<text x="967" y="268" font-size="7.5" fill="#a8a8a8" text-anchor="end" font-weight="normal" letter-spacing="0.5">CMUX</text>
<path d="M754.5,243.5 L754.5,291.5 L765.5,291.5" stroke="#414141" stroke-width="1" fill="none"/>
<path d="M754.5,243.5 L765.5,243.5" stroke="#414141" stroke-width="1" fill="none"/>
<path d="M760.5,250.5 L760.5,297.5 L765.5,297.5" stroke="#414141" stroke-width="1" fill="none"/>
<path d="M760.5,250.5 L765.5,250.5" stroke="#414141" stroke-width="1" fill="none"/>
<path d="M757.5,256.5 L757.5,304.5 L765.5,304.5" stroke="#414141" stroke-width="1" fill="none"/>
<path d="M757.5,256.5 L765.5,256.5" stroke="#414141" stroke-width="1" fill="none"/>
<path d="M748.5,263.5 L748.5,310.5 L765.5,310.5" stroke="#414141" stroke-width="1" fill="none"/>
<path d="M748.5,263.5 L765.5,263.5" stroke="#414141" stroke-width="1" fill="none"/>
<polygon points="765.5,338.5 774.5,343.5 774.5,345.5 765.5,350.5" stroke="#686868" fill="none" stroke-width="1"/>
<path d="M774.5,344.5 L972.5,344.5" stroke="#414141" stroke-width="1" fill="none"/>
<path d="M757.5,344.5 L765.5,344.5" stroke="#414141" stroke-width="1" fill="none"/>
<text x="967" y="344" font-size="7.5" fill="#a8a8a8" text-anchor="end" font-weight="normal" >B</text>
<polygon points="765.5,370.5 793.5,383.5 793.5,402.5 765.5,415.5" stroke="#686868" fill="none" stroke-width="1"/>
<rect x="763" y="371.5" width="3" height="3" stroke="#686868" fill="none" stroke-width="0.7"/>
<text x="768" y="375" font-size="5" fill="#8a8a8a" text-anchor="start" font-weight="normal" >B5Q</text>
<rect x="763" y="381.5" width="3" height="3" stroke="#686868" fill="none" stroke-width="0.7"/>
<text x="768" y="385" font-size="5" fill="#8a8a8a" text-anchor="start" font-weight="normal" >XOR</text>
<rect x="763" y="388.5" width="3" height="3" stroke="#686868" fill="none" stroke-width="0.7"/>
<text x="768" y="392" font-size="5" fill="#8a8a8a" text-anchor="start" font-weight="normal" >O6</text>
<rect x="763" y="394.5" width="3" height="3" stroke="#686868" fill="none" stroke-width="0.7"/>
<text x="768" y="398" font-size="5" fill="#8a8a8a" text-anchor="start" font-weight="normal" >O5</text>
<rect x="763" y="400.5" width="3" height="3" stroke="#686868" fill="none" stroke-width="0.7"/>
<text x="768" y="404" font-size="5" fill="#8a8a8a" text-anchor="start" font-weight="normal" >F8</text>
<rect x="763" y="407.5" width="3" height="3" stroke="#686868" fill="none" stroke-width="0.7"/>
<text x="768" y="411" font-size="5" fill="#8a8a8a" text-anchor="start" font-weight="normal" >CY</text>
<polygon points="765.5,425.5 793.5,438.5 793.5,456.5 765.5,469.5" stroke="#686868" fill="none" stroke-width="1"/>
<rect x="763" y="429.5" width="3" height="3" stroke="#686868" fill="none" stroke-width="0.7"/>
<text x="768" y="433" font-size="5" fill="#8a8a8a" text-anchor="start" font-weight="normal" >XOR</text>
<rect x="763" y="436.5" width="3" height="3" stroke="#686868" fill="none" stroke-width="0.7"/>
<text x="768" y="440" font-size="5" fill="#8a8a8a" text-anchor="start" font-weight="normal" >O6</text>
<rect x="763" y="442.5" width="3" height="3" stroke="#686868" fill="none" stroke-width="0.7"/>
<text x="768" y="446" font-size="5" fill="#8a8a8a" text-anchor="start" font-weight="normal" >O5</text>
<rect x="763" y="449.5" width="3" height="3" stroke="#686868" fill="none" stroke-width="0.7"/>
<text x="768" y="453" font-size="5" fill="#8a8a8a" text-anchor="start" font-weight="normal" >F8</text>
<rect x="763" y="455.5" width="3" height="3" stroke="#686868" fill="none" stroke-width="0.7"/>
<text x="768" y="459" font-size="5" fill="#8a8a8a" text-anchor="start" font-weight="normal" >CY</text>
<rect x="763" y="461.5" width="3" height="3" stroke="#686868" fill="none" stroke-width="0.7"/>
<text x="768" y="465" font-size="5" fill="#8a8a8a" text-anchor="start" font-weight="normal" >BX</text>
<rect x="863.5" y="371.5" width="38" height="38" stroke="#686868" fill="none" stroke-width="1"/>
<path d="M854.5,378.5 L863.5,378.5" stroke="#414141" stroke-width="1" fill="none"/>
<text x="865" y="379" font-size="6.3" fill="#9a9a9a" text-anchor="start" font-weight="normal" letter-spacing="1.2">SR</text>
<text x="865" y="387" font-size="6.3" fill="#9a9a9a" text-anchor="start" font-weight="normal" letter-spacing="1.2">D</text>
<path d="M857.5,393.5 L863.5,393.5" stroke="#414141" stroke-width="1" fill="none"/>
<text x="868" y="394" font-size="6.3" fill="#9a9a9a" text-anchor="start" font-weight="normal" letter-spacing="1.2">CK</text>
<path d="M851.5,401.5 L863.5,401.5" stroke="#414141" stroke-width="1" fill="none"/>
<text x="864" y="402" font-size="6.3" fill="#9a9a9a" text-anchor="start" font-weight="normal" letter-spacing="1.2">CE</text>
<text x="896" y="389.5" font-size="7.5" fill="#9a9a9a" text-anchor="start" font-weight="normal" >Q</text>
<path d="M863.5,391.5 L867.5,393.5 L863.5,395.5" stroke="#9a9a9a" fill="none" stroke-width="0.8" shape-rendering="auto"/>
<rect x="863.5" y="432.5" width="38" height="38" stroke="#686868" fill="none" stroke-width="1"/>
<path d="M854.5,439.5 L863.5,439.5" stroke="#414141" stroke-width="1" fill="none"/>
<text x="865" y="440" font-size="6.3" fill="#9a9a9a" text-anchor="start" font-weight="normal" letter-spacing="1.2">SR</text>
<text x="865" y="448" font-size="6.3" fill="#9a9a9a" text-anchor="start" font-weight="normal" letter-spacing="1.2">D</text>
<path d="M857.5,454.5 L863.5,454.5" stroke="#414141" stroke-width="1" fill="none"/>
<text x="868" y="455" font-size="6.3" fill="#9a9a9a" text-anchor="start" font-weight="normal" letter-spacing="1.2">CK</text>
<path d="M851.5,462.5 L863.5,462.5" stroke="#414141" stroke-width="1" fill="none"/>
<text x="864" y="463" font-size="6.3" fill="#9a9a9a" text-anchor="start" font-weight="normal" letter-spacing="1.2">CE</text>
<text x="896" y="450.5" font-size="7.5" fill="#9a9a9a" text-anchor="start" font-weight="normal" >Q</text>
<path d="M863.5,452.5 L867.5,454.5 L863.5,456.5" stroke="#9a9a9a" fill="none" stroke-width="0.8" shape-rendering="auto"/>
<path d="M901.5,390.5 L908.5,390.5 L908.5,368.5 L760.5,368.5 L760.5,373.5 L765.5,373.5" stroke="#414141" stroke-width="1" fill="none"/>
<path d="M793.5,447.5 L863.5,447.5" stroke="#414141" stroke-width="1" fill="none"/>
<path d="M901.5,451.5 L972.5,451.5" stroke="#414141" stroke-width="1" fill="none"/>
<text x="967" y="451" font-size="7.5" fill="#a8a8a8" text-anchor="end" font-weight="normal" letter-spacing="0.5">BQ</text>
<text x="967" y="415" font-size="7.5" fill="#a8a8a8" text-anchor="end" font-weight="normal" letter-spacing="0.5">BMUX</text>
<path d="M754.5,390.5 L754.5,438.5 L765.5,438.5" stroke="#414141" stroke-width="1" fill="none"/>
<path d="M754.5,390.5 L765.5,390.5" stroke="#414141" stroke-width="1" fill="none"/>
<path d="M760.5,396.5 L760.5,444.5 L765.5,444.5" stroke="#414141" stroke-width="1" fill="none"/>
<path d="M760.5,396.5 L765.5,396.5" stroke="#414141" stroke-width="1" fill="none"/>
<path d="M757.5,402.5 L757.5,451.5 L765.5,451.5" stroke="#414141" stroke-width="1" fill="none"/>
<path d="M757.5,402.5 L765.5,402.5" stroke="#414141" stroke-width="1" fill="none"/>
<path d="M748.5,409.5 L748.5,457.5 L765.5,457.5" stroke="#414141" stroke-width="1" fill="none"/>
<path d="M748.5,409.5 L765.5,409.5" stroke="#414141" stroke-width="1" fill="none"/>
<polygon points="765.5,485.5 774.5,490.5 774.5,492.5 765.5,497.5" stroke="#686868" fill="none" stroke-width="1"/>
<path d="M774.5,491.5 L972.5,491.5" stroke="#414141" stroke-width="1" fill="none"/>
<path d="M757.5,491.5 L765.5,491.5" stroke="#414141" stroke-width="1" fill="none"/>
<text x="967" y="491" font-size="7.5" fill="#a8a8a8" text-anchor="end" font-weight="normal" >A</text>
<polygon points="765.5,517.5 793.5,530.5 793.5,548.5 765.5,561.5" stroke="#686868" fill="none" stroke-width="1"/>
<rect x="763" y="518.5" width="3" height="3" stroke="#686868" fill="none" stroke-width="0.7"/>
<text x="768" y="522" font-size="5" fill="#8a8a8a" text-anchor="start" font-weight="normal" >A5Q</text>
<rect x="763" y="528.5" width="3" height="3" stroke="#686868" fill="none" stroke-width="0.7"/>
<text x="768" y="532" font-size="5" fill="#8a8a8a" text-anchor="start" font-weight="normal" >XOR</text>
<rect x="763" y="534.5" width="3" height="3" stroke="#686868" fill="none" stroke-width="0.7"/>
<text x="768" y="538" font-size="5" fill="#8a8a8a" text-anchor="start" font-weight="normal" >O6</text>
<rect x="763" y="541.5" width="3" height="3" stroke="#686868" fill="none" stroke-width="0.7"/>
<text x="768" y="545" font-size="5" fill="#8a8a8a" text-anchor="start" font-weight="normal" >O5</text>
<rect x="763" y="547.5" width="3" height="3" stroke="#686868" fill="none" stroke-width="0.7"/>
<text x="768" y="551" font-size="5" fill="#8a8a8a" text-anchor="start" font-weight="normal" >F7</text>
<rect x="763" y="554.5" width="3" height="3" stroke="#686868" fill="none" stroke-width="0.7"/>
<text x="768" y="558" font-size="5" fill="#8a8a8a" text-anchor="start" font-weight="normal" >CY</text>
<polygon points="765.5,574.5 793.5,587.5 793.5,605.5 765.5,618.5" stroke="#686868" fill="none" stroke-width="1"/>
<rect x="763" y="578.5" width="3" height="3" stroke="#686868" fill="none" stroke-width="0.7"/>
<text x="768" y="582" font-size="5" fill="#8a8a8a" text-anchor="start" font-weight="normal" >XOR</text>
<rect x="763" y="585.5" width="3" height="3" stroke="#686868" fill="none" stroke-width="0.7"/>
<text x="768" y="589" font-size="5" fill="#8a8a8a" text-anchor="start" font-weight="normal" >O6</text>
<rect x="763" y="591.5" width="3" height="3" stroke="#686868" fill="none" stroke-width="0.7"/>
<text x="768" y="595" font-size="5" fill="#8a8a8a" text-anchor="start" font-weight="normal" >O5</text>
<rect x="763" y="598.5" width="3" height="3" stroke="#686868" fill="none" stroke-width="0.7"/>
<text x="768" y="602" font-size="5" fill="#8a8a8a" text-anchor="start" font-weight="normal" >F7</text>
<rect x="763" y="604.5" width="3" height="3" stroke="#686868" fill="none" stroke-width="0.7"/>
<text x="768" y="608" font-size="5" fill="#8a8a8a" text-anchor="start" font-weight="normal" >CY</text>
<rect x="763" y="611.5" width="3" height="3" stroke="#686868" fill="none" stroke-width="0.7"/>
<text x="768" y="615" font-size="5" fill="#8a8a8a" text-anchor="start" font-weight="normal" >AX</text>
<rect x="863.5" y="517.5" width="38" height="38" stroke="#686868" fill="none" stroke-width="1"/>
<path d="M854.5,524.5 L863.5,524.5" stroke="#414141" stroke-width="1" fill="none"/>
<text x="865" y="525" font-size="6.3" fill="#9a9a9a" text-anchor="start" font-weight="normal" letter-spacing="1.2">SR</text>
<text x="865" y="533" font-size="6.3" fill="#9a9a9a" text-anchor="start" font-weight="normal" letter-spacing="1.2">D</text>
<path d="M857.5,539.5 L863.5,539.5" stroke="#414141" stroke-width="1" fill="none"/>
<text x="868" y="540" font-size="6.3" fill="#9a9a9a" text-anchor="start" font-weight="normal" letter-spacing="1.2">CK</text>
<path d="M851.5,547.5 L863.5,547.5" stroke="#414141" stroke-width="1" fill="none"/>
<text x="864" y="548" font-size="6.3" fill="#9a9a9a" text-anchor="start" font-weight="normal" letter-spacing="1.2">CE</text>
<text x="896" y="535.5" font-size="7.5" fill="#9a9a9a" text-anchor="start" font-weight="normal" >Q</text>
<path d="M863.5,537.5 L867.5,539.5 L863.5,541.5" stroke="#9a9a9a" fill="none" stroke-width="0.8" shape-rendering="auto"/>
<rect x="863.5" y="578.5" width="39" height="39" stroke="#3cc8c8" fill="#184a4c" stroke-width="1"/>
<rect x="857" y="584.5" width="6" height="2" fill="#4f8f8f"/>
<text x="865" y="586" font-size="6.3" fill="#9a9a9a" text-anchor="start" font-weight="normal" letter-spacing="1.2">SR</text>
<rect x="857" y="592.5" width="6" height="2" fill="#4f8f8f"/>
<text x="865" y="594" font-size="6.3" fill="#9a9a9a" text-anchor="start" font-weight="normal" letter-spacing="1.2">D</text>
<rect x="857" y="599.5" width="6" height="2" fill="#4f8f8f"/>
<text x="868" y="601" font-size="6.3" fill="#9a9a9a" text-anchor="start" font-weight="normal" letter-spacing="1.2">CK</text>
<rect x="857" y="607.5" width="6" height="2" fill="#4f8f8f"/>
<text x="864" y="609" font-size="6.3" fill="#9a9a9a" text-anchor="start" font-weight="normal" letter-spacing="1.2">CE</text>
<text x="896" y="596.5" font-size="7.5" fill="#9a9a9a" text-anchor="start" font-weight="normal" >Q</text>
<path d="M863.5,598.5 L867.5,600.5 L863.5,602.5" stroke="#9a9a9a" fill="none" stroke-width="0.8" shape-rendering="auto"/>
<path d="M901.5,536.5 L908.5,536.5 L908.5,511.5 L760.5,511.5 L760.5,520.5 L765.5,520.5" stroke="#414141" stroke-width="1" fill="none"/>
<text x="967" y="597" font-size="7.5" fill="#a8a8a8" text-anchor="end" font-weight="normal" letter-spacing="0.5">AQ</text>
<text x="967" y="561" font-size="7.5" fill="#a8a8a8" text-anchor="end" font-weight="normal" letter-spacing="0.5">AMUX</text>
<path d="M754.5,536.5 L754.5,587.5 L765.5,587.5" stroke="#414141" stroke-width="1" fill="none"/>
<path d="M754.5,536.5 L765.5,536.5" stroke="#414141" stroke-width="1" fill="none"/>
<path d="M760.5,543.5 L760.5,593.5 L765.5,593.5" stroke="#414141" stroke-width="1" fill="none"/>
<path d="M760.5,543.5 L765.5,543.5" stroke="#414141" stroke-width="1" fill="none"/>
<path d="M757.5,549.5 L757.5,600.5 L765.5,600.5" stroke="#414141" stroke-width="1" fill="none"/>
<path d="M757.5,549.5 L765.5,549.5" stroke="#414141" stroke-width="1" fill="none"/>
<path d="M748.5,556.5 L748.5,606.5 L765.5,606.5" stroke="#414141" stroke-width="1" fill="none"/>
<path d="M748.5,556.5 L765.5,556.5" stroke="#414141" stroke-width="1" fill="none"/>
<path d="M591.5,109.5 L765.5,109.5" stroke="#414141" stroke-width="1" fill="none"/>
<path d="M591.5,119.5 L796.5,119.5 L796.5,93.5 L863.5,93.5" stroke="#414141" stroke-width="1" fill="none"/>
<path d="M591.5,147.5 L765.5,147.5" stroke="#414141" stroke-width="1" fill="none"/>
<path d="M591.5,154.5 L765.5,154.5" stroke="#414141" stroke-width="1" fill="none"/>
<path d="M591.5,160.5 L765.5,160.5" stroke="#414141" stroke-width="1" fill="none"/>
<path d="M757.5,54.5 L757.5,147.5" stroke="#414141" stroke-width="1" fill="none"/>
<path d="M591.5,206.5 L598.5,206.5 L598.5,262.5 L765.5,262.5" stroke="#414141" stroke-width="1" fill="none"/>
<path d="M591.5,210.5 L799.5,210.5 L799.5,239.5 L863.5,239.5" stroke="#414141" stroke-width="1" fill="none"/>
<path d="M591.5,244.5 L765.5,244.5" stroke="#414141" stroke-width="1" fill="none"/>
<path d="M591.5,250.5 L765.5,250.5" stroke="#414141" stroke-width="1" fill="none"/>
<path d="M757.5,198.5 L757.5,244.5" stroke="#414141" stroke-width="1" fill="none"/>
<path d="M591.5,304.5 L765.5,304.5" stroke="#414141" stroke-width="1" fill="none"/>
<path d="M591.5,316.5 L765.5,316.5" stroke="#414141" stroke-width="1" fill="none"/>
<path d="M591.5,356.5 L598.5,356.5 L598.5,408.5 L765.5,408.5" stroke="#414141" stroke-width="1" fill="none"/>
<path d="M591.5,362.5 L799.5,362.5 L799.5,386.5 L863.5,386.5" stroke="#414141" stroke-width="1" fill="none"/>
<path d="M591.5,389.5 L765.5,389.5" stroke="#414141" stroke-width="1" fill="none"/>
<path d="M591.5,396.5 L765.5,396.5" stroke="#414141" stroke-width="1" fill="none"/>
<path d="M591.5,402.5 L765.5,402.5" stroke="#414141" stroke-width="1" fill="none"/>
<path d="M757.5,344.5 L757.5,390.5" stroke="#414141" stroke-width="1" fill="none"/>
<path d="M591.5,451.5 L662.5,451.5 L662.5,552.5 L765.5,552.5" stroke="#414141" stroke-width="1" fill="none"/>
<path d="M591.5,455.5 L665.5,455.5 L665.5,556.5 L765.5,556.5" stroke="#414141" stroke-width="1" fill="none"/>
<path d="M591.5,463.5 L765.5,463.5" stroke="#414141" stroke-width="1" fill="none"/>
<path d="M591.5,491.5 L765.5,491.5" stroke="#414141" stroke-width="1" fill="none"/>
<path d="M757.5,491.5 L757.5,536.5" stroke="#414141" stroke-width="1" fill="none"/>
<path d="M591.5,515.5 L799.5,515.5 L799.5,533.5 L863.5,533.5" stroke="#414141" stroke-width="1" fill="none"/>
<path d="M591.5,525.5 L658.5,525.5 L658.5,542.5 L765.5,542.5" stroke="#414141" stroke-width="1" fill="none"/>
<polygon points="640.5,543.5 653.5,547.5 653.5,557.5 640.5,561.5" stroke="#686868" fill="none" stroke-width="1"/>
<polygon points="640.5,592.5 653.5,596.5 653.5,606.5 640.5,610.5" stroke="#686868" fill="none" stroke-width="1"/>
<polygon points="622.5,539.5 625.5,545.5 619.5,545.5" stroke="#686868" fill="none" stroke-width="1"/>
<path d="M622.5,545.5 L622.5,549.5 L640.5,549.5" stroke="#414141" stroke-width="1" fill="none"/>
<polygon points="619.5,608.5 625.5,608.5 622.5,614.5" stroke="#686868" fill="none" stroke-width="1"/>
<path d="M622.5,608.5 L622.5,603.5 L640.5,603.5" stroke="#414141" stroke-width="1" fill="none"/>
<rect x="96.5" y="61.5" width="53" height="85" stroke="#3cc8c8" fill="none"/>
<rect x="96.5" y="196.5" width="53" height="85" stroke="#3cc8c8" fill="none"/>
<rect x="96.5" y="330.5" width="53" height="85" stroke="#3cc8c8" fill="none"/>
<rect x="96.5" y="464.5" width="53" height="85" stroke="#3cc8c8" fill="none"/>
<rect x="450.5" y="82.5" width="141" height="498" stroke="#3cc8c8" fill="none"/>
<path d="M0.5,79.5 L90.5,79.5" stroke="#00a000" stroke-width="1" fill="none"/>
<path d="M0.5,99.5 L90.5,99.5" stroke="#00a000" stroke-width="1" fill="none"/>
<path d="M0.5,214.5 L90.5,214.5" stroke="#00a000" stroke-width="1" fill="none"/>
<path d="M0.5,233.5 L90.5,233.5" stroke="#00a000" stroke-width="1" fill="none"/>
<path d="M0.5,252.5 L90.5,252.5" stroke="#00a000" stroke-width="1" fill="none"/>
<path d="M0.5,262.5 L90.5,262.5" stroke="#00a000" stroke-width="1" fill="none"/>
<path d="M0.5,348.5 L90.5,348.5" stroke="#00a000" stroke-width="1" fill="none"/>
<path d="M0.5,367.5 L90.5,367.5" stroke="#00a000" stroke-width="1" fill="none"/>
<path d="M0.5,377.5 L90.5,377.5" stroke="#00a000" stroke-width="1" fill="none"/>
<path d="M0.5,386.5 L90.5,386.5" stroke="#00a000" stroke-width="1" fill="none"/>
<path d="M0.5,396.5 L90.5,396.5" stroke="#00a000" stroke-width="1" fill="none"/>
<path d="M0.5,482.5 L90.5,482.5" stroke="#00a000" stroke-width="1" fill="none"/>
<path d="M0.5,492.5 L90.5,492.5" stroke="#00a000" stroke-width="1" fill="none"/>
<path d="M0.5,502.5 L90.5,502.5" stroke="#00a000" stroke-width="1" fill="none"/>
<path d="M0.5,511.5 L90.5,511.5" stroke="#00a000" stroke-width="1" fill="none"/>
<path d="M0.5,521.5 L90.5,521.5" stroke="#00a000" stroke-width="1" fill="none"/>
<path d="M0.5,530.5 L90.5,530.5" stroke="#00a000" stroke-width="1" fill="none"/>
<path d="M155.5,79.5 L164.5,79.5 L164.5,178.5 L251.5,178.5" stroke="#00a000" stroke-width="1" fill="none"/>
<path d="M0.5,159.5 L158.5,159.5 L158.5,127.5 L309.5,127.5 L309.5,159.5 L379.5,159.5" stroke="#00a000" stroke-width="1" fill="none"/>
<path d="M379.5,159.5 L393.5,156.5 L447.5,156.5" stroke="#00a000" stroke-width="1" fill="none"/>
<path d="M331.5,131.5 L447.5,131.5" stroke="#00a000" stroke-width="1" fill="none"/>
<path d="M331.5,131.5 L331.5,169.5 L251.5,169.5 L251.5,198.5 L331.5,198.5 L331.5,231.5 L447.5,231.5" stroke="#00a000" stroke-width="1" fill="none"/>
<polygon points="378,156.5 382.5,159.5 378,162.5" fill="#00a000"/>
<path d="M155.5,214.5 L158.5,214.5 L158.5,185.5 L251.5,185.5" stroke="#00a000" stroke-width="1" fill="none"/>
<path d="M155.5,252.5 L161.5,252.5 L161.5,242.5 L306.5,242.5 L306.5,253.5 L379.5,253.5" stroke="#00a000" stroke-width="1" fill="none"/>
<path d="M379.5,253.5 L393.5,256.5 L447.5,256.5" stroke="#00a000" stroke-width="1" fill="none"/>
<polygon points="378,250.5 382.5,253.5 378,256.5" fill="#00a000"/>
<path d="M0.5,310.5 L26.5,310.5" stroke="#00a000" stroke-width="1" fill="none"/>
<path d="M26.5,310.5 L45.5,307.5 L45.5,326.5 L800.5,326.5 L800.5,308.5 L857.5,308.5 L857.5,601.5" stroke="#00a000" stroke-width="1" fill="none"/>
<polygon points="24,307.5 28.5,310.5 24,313.5" fill="#00a000"/>
<path d="M155.5,348.5 L161.5,348.5 L161.5,447.5 L251.5,447.5" stroke="#00a000" stroke-width="1" fill="none"/>
<path d="M155.5,386.5 L306.5,386.5 L306.5,402.5 L379.5,402.5" stroke="#00a000" stroke-width="1" fill="none"/>
<path d="M379.5,402.5 L393.5,405.5 L447.5,405.5" stroke="#00a000" stroke-width="1" fill="none"/>
<polygon points="378,399.5 382.5,402.5 378,405.5" fill="#00a000"/>
<path d="M335.5,380.5 L447.5,380.5" stroke="#00a000" stroke-width="1" fill="none"/>
<path d="M335.5,380.5 L335.5,439.5 L251.5,439.5 L251.5,465.5 L331.5,465.5 L331.5,480.5 L447.5,480.5" stroke="#00a000" stroke-width="1" fill="none"/>
<path d="M155.5,482.5 L158.5,482.5 L158.5,454.5 L251.5,454.5" stroke="#00a000" stroke-width="1" fill="none"/>
<path d="M155.5,521.5 L158.5,521.5 L158.5,485.5 L306.5,485.5 L306.5,502.5 L379.5,502.5" stroke="#00a000" stroke-width="1" fill="none"/>
<path d="M379.5,502.5 L393.5,505.5 L447.5,505.5" stroke="#00a000" stroke-width="1" fill="none"/>
<polygon points="378,499.5 382.5,502.5 378,505.5" fill="#00a000"/>
<path d="M0.5,562.5 L376.5,562.5 L376.5,571.5 L366.5,571.5 L366.5,589.5 L627.5,589.5 L627.5,613.5 L765.5,613.5" stroke="#00a000" stroke-width="1" fill="none"/>
<path d="M0.5,605.5 L5.5,605.5 L5.5,568.5 L366.5,568.5 L366.5,540.5 L447.5,540.5" stroke="#00a000" stroke-width="1" fill="none"/>
<path d="M0.5,576.5 L2.5,576.5 L2.5,586.5 L407.5,586.5 L407.5,555.5 L640.5,555.5" stroke="#00a000" stroke-width="1" fill="none"/>
<path d="M0.5,590.5 L2.5,590.5 L2.5,598.5 L640.5,598.5" stroke="#00a000" stroke-width="1" fill="none"/>
<path d="M595.5,39.5 L972.5,39.5" stroke="#00a000" stroke-width="1" fill="none"/>
<path d="M595.5,39.5 L595.5,108.5" stroke="#00a000" stroke-width="1" fill="none"/>
<polygon points="638,36.5 642.5,39.5 638,42.5" fill="#00a000"/>
<path d="M765.5,90.5 L790.5,97.5 L799.5,97.5 L799.5,122.5 L972.5,122.5" stroke="#00a000" stroke-width="1" fill="none"/>
<polygon points="764,87.5 768.5,90.5 764,93.5" fill="#00a000"/>
<path d="M765.5,237.5 L793.5,246.5 L799.5,246.5 L799.5,268.5 L972.5,268.5" stroke="#00a000" stroke-width="1" fill="none"/>
<polygon points="764,234.5 768.5,237.5 764,240.5" fill="#00a000"/>
<path d="M765.5,383.5 L793.5,393.5 L799.5,393.5 L799.5,415.5 L972.5,415.5" stroke="#00a000" stroke-width="1" fill="none"/>
<polygon points="764,380.5 768.5,383.5 764,386.5" fill="#00a000"/>
<path d="M765.5,530.5 L793.5,539.5 L799.5,539.5 L799.5,561.5 L972.5,561.5" stroke="#00a000" stroke-width="1" fill="none"/>
<polygon points="764,527.5 768.5,530.5 764,533.5" fill="#00a000"/>
<path d="M595.5,156.5 L595.5,141.5 L754.5,141.5 L754.5,90.5 L765.5,90.5" stroke="#00a000" stroke-width="1" fill="none"/>
<path d="M595.5,256.5 L595.5,237.5 L765.5,237.5" stroke="#00a000" stroke-width="1" fill="none"/>
<path d="M595.5,405.5 L595.5,431.5 L751.5,431.5 L751.5,383.5 L765.5,383.5" stroke="#00a000" stroke-width="1" fill="none"/>
<path d="M751.5,431.5 L765.5,431.5" stroke="#00a000" stroke-width="1" fill="none"/>
<path d="M595.5,505.5 L595.5,530.5 L765.5,530.5" stroke="#00a000" stroke-width="1" fill="none"/>
<polygon points="638,552.5 642.5,555.5 638,558.5" fill="#00a000"/>
<polygon points="638,595.5 642.5,598.5 638,601.5" fill="#00a000"/>
<path d="M640.5,555.5 L653.5,552.5 L658.5,552.5 L658.5,564.5 L802.5,564.5 L802.5,548.5 L850.5,548.5 L850.5,609.5 L857.5,609.5" stroke="#00a000" stroke-width="1" fill="none"/>
<path d="M640.5,598.5 L653.5,601.5 L658.5,601.5 L658.5,572.5 L799.5,572.5 L799.5,586.5 L857.5,586.5" stroke="#00a000" stroke-width="1" fill="none"/>
<path d="M765.5,613.5 L793.5,597.5 L799.5,597.5 L799.5,594.5 L857.5,594.5" stroke="#00a000" stroke-width="1" fill="none"/>
<path d="M902.5,597.5 L972.5,597.5" stroke="#00a000" stroke-width="1" fill="none"/>
<polygon points="764,610.5 768.5,613.5 764,616.5" fill="#00a000"/>
</svg>
</body></html>
